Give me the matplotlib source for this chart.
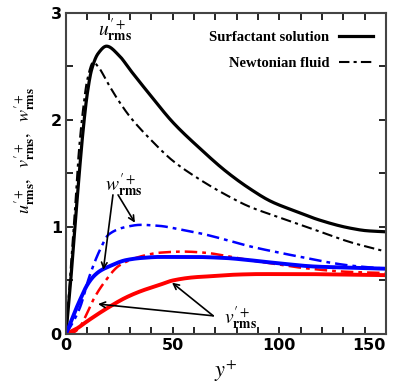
import numpy as np
import matplotlib.pyplot as plt
from matplotlib.lines import Line2D

# surfactant solution (solid) and newtonian fluid (dash-dot)
u_surf_y = [0, 2, 4, 6, 8, 10, 12, 15, 19, 25, 30, 40, 50, 63, 75, 86, 96, 110, 118, 133, 141, 150]
u_surf = [0, 0.45, 0.95, 1.45, 1.9, 2.25, 2.47, 2.62, 2.69, 2.6, 2.47, 2.22, 1.98, 1.73, 1.52, 1.36, 1.24, 1.13, 1.07, 0.99, 0.965, 0.955]

u_newt_y = [0, 2, 4, 6, 8, 10, 12.8, 15, 20, 24, 30, 40, 50, 63, 75, 86, 100, 110, 120, 133, 150]
u_newt = [0, 0.55, 1.1, 1.7, 2.1, 2.38, 2.54, 2.5, 2.33, 2.2, 2.03, 1.81, 1.62, 1.44, 1.3, 1.19, 1.09, 1.02, 0.95, 0.86, 0.77]

w_newt_y = [0, 3, 6.6, 11, 16, 20, 28, 35, 44, 55, 63, 75, 86, 100, 110, 120, 133, 150]
w_newt = [0, 0.1, 0.25, 0.54, 0.79, 0.93, 1.0, 1.02, 1.01, 0.97, 0.94, 0.88, 0.82, 0.76, 0.72, 0.68, 0.64, 0.61]

w_surf_y = [0, 2, 4, 6.6, 10, 13, 16, 20, 28, 35, 44, 60, 75, 86, 100, 117, 133, 150]
w_surf = [0, 0.1, 0.2, 0.32, 0.46, 0.54, 0.59, 0.63, 0.69, 0.71, 0.72, 0.72, 0.71, 0.69, 0.66, 0.63, 0.62, 0.61]

v_newt_y = [0, 4, 6.6, 10, 12.8, 17.5, 25, 36, 44, 55, 65, 75, 86, 100, 110, 133, 150]
v_newt = [0, 0.02, 0.07, 0.2, 0.32, 0.47, 0.64, 0.73, 0.76, 0.77, 0.76, 0.73, 0.69, 0.65, 0.62, 0.58, 0.57]

v_surf_y = [0, 5, 10, 16, 20, 28, 35, 44, 50, 60, 68, 80, 91, 110, 130, 150]
v_surf = [0, 0.05, 0.12, 0.2, 0.25, 0.34, 0.4, 0.46, 0.5, 0.53, 0.54, 0.555, 0.56, 0.56, 0.555, 0.55]

legend_labels = ["Surfactant solution", "Newtonian fluid"]

plt.rcParams["mathtext.fontset"] = "stix"
dashdot = (0, (5, 2, 1.5, 2))


def smooth(xs, ys):
    # monotone cubic (Fritsch-Carlson) through the read points, no overshoot
    x = np.asarray(xs, float)
    y = np.asarray(ys, float)
    h = np.diff(x)
    delta = np.diff(y) / h
    d = np.zeros_like(y)
    d[0], d[-1] = delta[0], delta[-1]
    for k in range(1, len(x) - 1):
        if delta[k - 1] * delta[k] <= 0:
            d[k] = 0
        else:
            w1 = 2 * h[k] + h[k - 1]
            w2 = h[k] + 2 * h[k - 1]
            d[k] = (w1 + w2) / (w1 / delta[k - 1] + w2 / delta[k])
    xx = np.linspace(x[0], x[-1], 800)
    idx = np.clip(np.searchsorted(x, xx) - 1, 0, len(x) - 2)
    hh = h[idx]
    t = (xx - x[idx]) / hh
    yy = ((2 * t**3 - 3 * t**2 + 1) * y[idx] + (t**3 - 2 * t**2 + t) * hh * d[idx]
          + (-2 * t**3 + 3 * t**2) * y[idx + 1] + (t**3 - t**2) * hh * d[idx + 1])
    return xx, yy


fig = plt.figure(figsize=(4.01, 3.89), dpi=100)
ax = fig.add_axes([0.1646, 0.1414, 0.798, 0.8252])

ax.plot(*smooth(u_surf_y, u_surf), color="black", lw=2.3)
ax.plot(*smooth(u_newt_y, u_newt), color="black", lw=1.5, linestyle=dashdot)
ax.plot(*smooth(w_newt_y, w_newt), color="blue", lw=1.8, linestyle=dashdot)
ax.plot(*smooth(v_newt_y, v_newt), color="red", lw=1.8, linestyle=dashdot)
ax.plot(*smooth(v_surf_y, v_surf), color="red", lw=2.8)
ax.plot(*smooth(w_surf_y, w_surf), color="blue", lw=2.8)

ax.set_xlim(0, 150)
ax.set_ylim(0, 3)
ax.set_xticks([0, 50, 100, 150])
ax.set_xticks(np.arange(0, 151, 10), minor=True)
ax.set_yticks([0, 1, 2, 3])
ax.set_yticks(np.arange(0, 3.01, 0.5), minor=True)
ax.tick_params(which="both", direction="in", top=True, right=True, width=1.2)
ax.tick_params(which="major", length=5, labelsize=11.5, pad=3)
ax.tick_params(which="minor", length=5)
for lab in ax.get_xticklabels() + ax.get_yticklabels():
    lab.set_fontweight("bold")
# the last x label sits at the figure edge; nudge it inward a little
ax.get_xticklabels()[-1].set_horizontalalignment("right")
ax.get_xticklabels()[-1].set_x(150)
for s in ax.spines.values():
    s.set_linewidth(1.5)
    s.set_color("#444444")

ax.set_xlabel(r"$y^{+}$", fontsize=16, labelpad=4)
ax.set_ylabel(r"$u^{\prime +}_{\mathbf{rms}},\ \ v^{\prime +}_{\mathbf{rms}},\ \ w^{\prime +}_{\mathbf{rms}}$",
              fontsize=13)
ax.yaxis.set_label_coords(-0.09, 0.57)

ax.text(23, 2.84, r"$u^{\prime +}_{\mathbf{rms}}$", fontsize=14, ha="center", va="center")
ax.text(27, 1.39, r"$w^{\prime +}_{\mathbf{rms}}$", fontsize=14, ha="center", va="center")
ax.text(82, 0.15, r"$v^{\prime +}_{\mathbf{rms}}$", fontsize=14, ha="center", va="center")

arrow = dict(arrowstyle="->", color="black", lw=1.2, shrinkA=0, shrinkB=0)
ax.annotate("", xy=(17.5, 0.6), xytext=(22, 1.3), arrowprops=arrow)
ax.annotate("", xy=(32.3, 1.04), xytext=(24.4, 1.3), arrowprops=arrow)
ax.annotate("", xy=(15, 0.28), xytext=(69, 0.17), arrowprops=arrow)
ax.annotate("", xy=(49.7, 0.48), xytext=(69, 0.17), arrowprops=arrow)

handles = [Line2D([], [], color="black", lw=2.3),
           Line2D([], [], color="black", lw=1.5, linestyle=dashdot)]
ax.legend(handles, legend_labels, loc="upper right", bbox_to_anchor=(1.0, 0.985),
          frameon=False, markerfirst=False, handlelength=2.3, handletextpad=0.7,
          labelspacing=0.9, prop={"family": "Liberation Serif", "weight": "bold", "size": 10.5})

fig.savefig("out.png", dpi=100)
